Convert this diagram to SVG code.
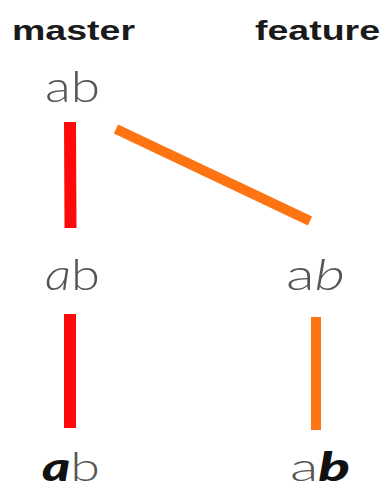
<svg xmlns="http://www.w3.org/2000/svg" width="388" height="490" viewBox="0 0 388 490">
<style>
.title{font-family:"Liberation Sans",Arial,sans-serif;font-weight:bold;font-size:28px;fill:#1a1a1a}
.lbl{font-family:Lato,"Liberation Sans",sans-serif;font-weight:300;font-size:44px;fill:#555}
.sm{font-size:39px}
.it{font-style:italic}
.bd{font-weight:900;fill:#111}
.m{stroke:#ff0a0a;stroke-width:12;fill:none}
.f{stroke:#ff7412;stroke-width:10;fill:none}
</style>
<rect width="388" height="490" fill="#fff"/>
<g id="headers">
<text class="title" x="12" y="40" textLength="123" lengthAdjust="spacingAndGlyphs">master</text>
<text class="title" x="255" y="40" textLength="125" lengthAdjust="spacingAndGlyphs">feature</text>
</g>
<g id="m1"><text class="lbl" x="45" y="102" textLength="55" lengthAdjust="spacingAndGlyphs">ab</text></g>
<g id="m2"><text class="lbl" x="45" y="290" textLength="55" lengthAdjust="spacingAndGlyphs"><tspan class="it">a</tspan>b</text></g>
<g id="f1"><text class="lbl" x="286" y="290" textLength="59" lengthAdjust="spacingAndGlyphs">a<tspan class="it">b</tspan></text></g>
<g id="m3"><text class="lbl sm" x="42" y="481" textLength="58" lengthAdjust="spacingAndGlyphs"><tspan class="it bd">a</tspan>b</text></g>
<g id="f2"><text class="lbl sm" x="290" y="481" textLength="60" lengthAdjust="spacingAndGlyphs">a<tspan class="it bd">b</tspan></text></g>
<g id="connectors">
<line class="m" x1="70" y1="122" x2="70.5" y2="228"/>
<line class="f" x1="116" y1="129" x2="310" y2="221"/>
<line class="m" x1="70" y1="314" x2="70" y2="428"/>
<line class="f" x1="316" y1="317" x2="316" y2="430"/>
</g>
</svg>
